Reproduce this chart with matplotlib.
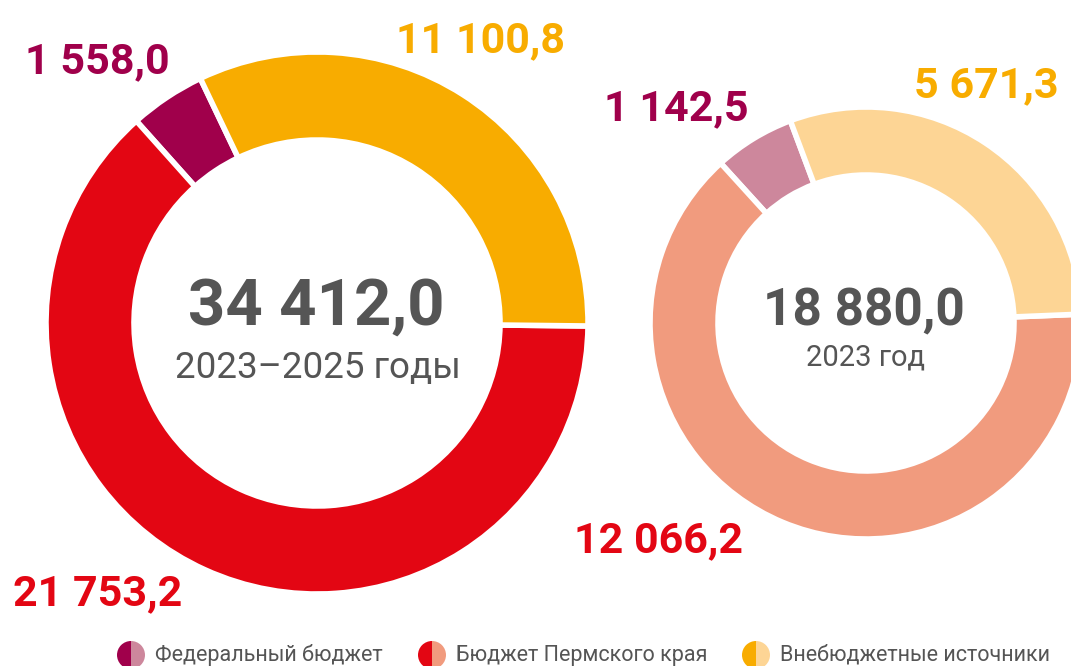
import matplotlib
matplotlib.use("Agg")
import matplotlib.pyplot as plt
from matplotlib.patches import Wedge

# Funding sources, mln rubles
sources = ["Федеральный бюджет", "Бюджет Пермского края", "Внебюджетные источники"]
period_values = [1558.0, 21753.2, 11100.8]      # 2023–2025
year_values = [1142.5, 12066.2, 5671.3]         # 2023
period_total_label = "34 412,0"
period_caption = "2023–2025 годы"
year_total_label = "18 880,0"
year_caption = "2023 год"

dark_colors = ["#A0004B", "#E30613", "#F8AC00"]
light_colors = ["#CD879C", "#F19B7E", "#FDD595"]
gray = "#555555"

W, H = 1071, 666
fig = plt.figure(figsize=(W / 100, H / 100), dpi=100)
ax = fig.add_axes([0, 0, 1, 1])


def fmt(v):
    s = f"{v:,.1f}".replace(",", " ").replace(".", ",")
    return s


def donut(values, colors, center, radius, width, start):
    cx, cy = center
    ax.pie(values, colors=colors, startangle=start, counterclock=True,
           radius=radius, center=(cx, H - cy), frame=True,
           wedgeprops=dict(width=width, edgecolor="white", linewidth=4))


donut(period_values, dark_colors, (317, 323), 271, 88, 115.5)
donut(year_values, light_colors, (866, 323), 216, 68, 110.5)

label_font = dict(family="Roboto", weight="bold", ha="center", va="baseline")

# Period labels
ax.text(97, H - 73, fmt(period_values[0]), color=dark_colors[0], fontsize=31, **label_font)
ax.text(98, H - 605, fmt(period_values[1]), color=dark_colors[1], fontsize=31, **label_font)
ax.text(480, H - 52, fmt(period_values[2]), color=dark_colors[2], fontsize=31, **label_font)

# Year labels (shown in the darker tone)
ax.text(676, H - 120, fmt(year_values[0]), color=dark_colors[0], fontsize=31, **label_font)
ax.text(658, H - 552, fmt(year_values[1]), color=dark_colors[1], fontsize=31, **label_font)
ax.text(986, H - 97, fmt(year_values[2]), color=dark_colors[2], fontsize=31, **label_font)

# Centre totals
ax.text(316, H - 325, period_total_label, color=gray, fontsize=47, family="Roboto",
        weight="bold", ha="center", va="baseline")
ax.text(318, H - 378, period_caption, color=gray, fontsize=26.5, family="Roboto",
        ha="center", va="baseline")
ax.text(864, H - 325, year_total_label, color=gray, fontsize=37, family="Roboto",
        weight="bold", ha="center", va="baseline")
ax.text(866, H - 365, year_caption, color=gray, fontsize=21, family="Roboto",
        ha="center", va="baseline")

# Legend with split circles: dark half for 2023–2025, light half for 2023
legend_x = [131, 432, 756]
legend_y = H - 655
r = 14
for x, name, dc, lc in zip(legend_x, sources, dark_colors, light_colors):
    ax.add_patch(Wedge((x, legend_y), r, 90, 270, facecolor=dc, edgecolor="none"))
    ax.add_patch(Wedge((x, legend_y), r, -90, 90, facecolor=lc, edgecolor="none"))
    ax.text(x + 24, legend_y, name, color=gray, fontsize=15.5, family="Roboto",
            ha="left", va="center")

ax.set_xlim(0, W)
ax.set_ylim(0, H)
ax.set_aspect("equal")
ax.axis("off")

fig.savefig("out.png", dpi=100, facecolor="white")
